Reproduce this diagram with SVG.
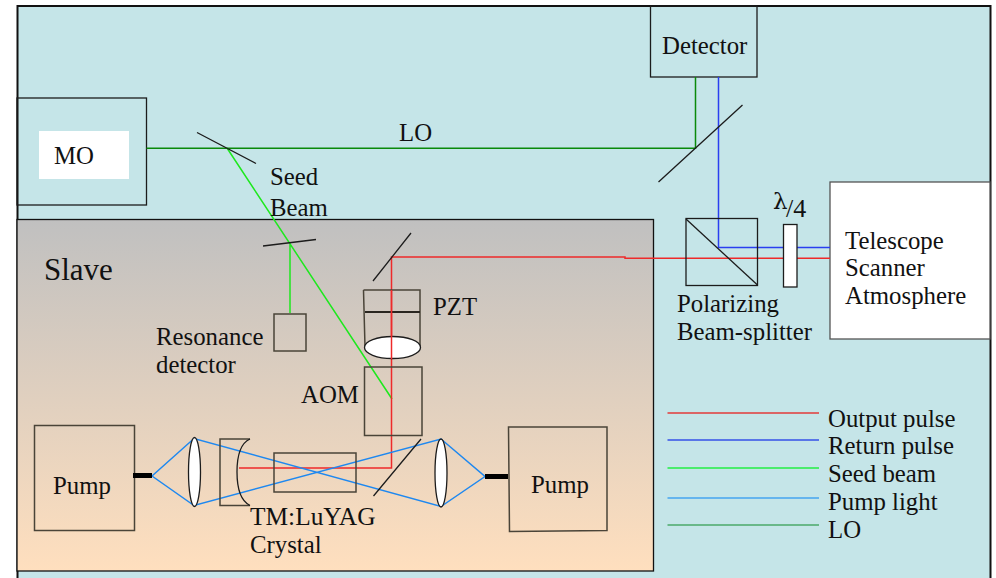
<svg xmlns="http://www.w3.org/2000/svg" width="996" height="578" viewBox="0 0 996 578">
<style>
text{font-family:"Liberation Serif","Times New Roman",serif;font-size:24.8px;fill:#111}
.b{fill:none;stroke:#1c1c1c;stroke-width:1.3}
.g{fill:none;stroke:#4a4438;stroke-width:1.5}
.w{fill:#fff;stroke:#1c1c1c;stroke-width:1.3}
.beam{fill:none;stroke-width:1.5}
.red{stroke:#ee2a2a}.blue{stroke:#2a3ff0}.seed{stroke:#1ee81e}.pump{stroke:#1e88f0}.lo{stroke:#0a8a0a}
</style>
<defs><linearGradient id="sg" x1="0" y1="0" x2="0" y2="1"><stop offset="0" stop-color="#c0c0c0"/><stop offset="1" stop-color="#ffdfbe"/></linearGradient></defs>
<rect x="0" y="0" width="996" height="578" fill="#fff"/>
<g id="frame"><rect x="17.500" y="6" width="973" height="576" fill="#c5e5e8" stroke="#111" stroke-width="2"/></g>
<g id="slave"><rect x="17" y="219.500" width="636.500" height="351.500" fill="url(#sg)" stroke="#111" stroke-width="1.300"/><text x="44" y="280" style="font-size:31px">Slave</text></g>
<g id="mo"><rect x="17" y="98" width="129.500" height="107" class="b"/><rect x="39" y="131" width="90" height="48" fill="#fff"/><text x="54" y="164">MO</text></g>
<g id="detector"><rect x="650.500" y="6" width="106.500" height="71" class="b"/><text x="662" y="54">Detector</text></g>
<g id="telescope"><rect x="830" y="182" width="160" height="157" fill="#fff" stroke="#555" stroke-width="1.300"/><text x="845" y="249">Telescope</text><text x="845" y="276">Scanner</text><text x="845" y="304">Atmosphere</text></g>
<g id="connectors">
<path class="beam lo" d="M146.500 148.300H695.500V77"/>
<path class="beam seed" d="M227 148L392 399M290 243V313"/>
<path class="beam blue" d="M718.500 77V247.500H830"/>
<path class="beam red" d="M830 258.300H625V257H391.500V468H239"/>
<path class="beam pump" d="M152 476L194 438.500L441 506.500L485 476.500L441 439L194 505.500Z"/>
</g>
<g id="mirrors">
<path class="b" d="M197 132.500L256 163.500M263 246L316 239.500M658.500 182L742.500 105M373 281L411 233M373.500 496L421 439"/>
</g>
<g id="resonance"><rect x="274" y="314" width="32" height="37" class="g"/><text x="156" y="345">Resonance</text><text x="156" y="373">detector</text></g>
<g id="pzt"><path class="g" d="M363.500 290H420V347M365 347L363.500 290"/><path d="M365 312H420" fill="none" stroke="#2a2620" stroke-width="1.800"/><ellipse cx="392.500" cy="347.500" rx="28" ry="11" class="w"/><path class="beam red" d="M391.500 290V359"/><text x="433" y="315">PZT</text></g>
<g id="aom"><rect x="364.500" y="367" width="57.500" height="68.500" class="g"/><text x="301" y="403">AOM</text></g>
<g id="crystal"><rect x="274" y="453" width="82" height="39" class="g"/><text x="250" y="525" style="font-size:25.400px">TM:LuYAG</text><text x="250" y="553">Crystal</text></g>
<g id="curved-mirror"><path class="g" d="M250 439H220V505.500H250"/><path class="b" d="M250 439C241 443 237 455 237 472C237 489 241 501 250 505.500"/></g>
<g id="lens-left"><ellipse cx="194.500" cy="472" rx="6" ry="34.500" class="w"/></g>
<g id="lens-right"><ellipse cx="441" cy="473" rx="6" ry="34" class="w"/></g>
<g id="pump-left"><rect x="34.500" y="425.500" width="100" height="105" class="g"/><rect x="133" y="473" width="19" height="5" fill="#000"/><text x="53" y="494">Pump</text></g>
<g id="pump-right"><path class="g" d="M508.500 427H607V530.500L509.500 531.500Z"/><rect x="485" y="474" width="23" height="5" fill="#000"/><text x="531" y="493">Pump</text></g>
<g id="pbs"><rect x="686" y="218.500" width="71.500" height="67" class="b"/><path class="b" d="M686 219L757.500 285"/><text x="677" y="312">Polarizing</text><text x="677" y="340">Beam-splitter</text></g>
<g id="qwp"><rect x="783.500" y="224.500" width="13.500" height="62.500" class="w"/><text x="773" y="209" style="font-family:'DejaVu Serif','Liberation Serif',serif;font-size:23px">λ</text><text x="786" y="217" style="font-size:26px">/4</text></g>
<g id="seed-label"><text x="270" y="185">Seed</text><text x="270" y="216">Beam</text></g>
<text id="lo-label" x="399" y="141">LO</text>
<g id="legend">
<path d="M667.500 413H819" stroke="#e23a3a" stroke-width="1.300"/>
<path d="M667.500 440H819" stroke="#3550e8" stroke-width="1.300"/>
<path d="M667.500 468H819" stroke="#22ee44" stroke-width="1.300"/>
<path d="M667.500 498H819" stroke="#45a5f0" stroke-width="1.300"/>
<path d="M667.500 525H819" stroke="#4aa86a" stroke-width="1.300"/>
<text x="828" y="427">Output pulse</text><text x="828" y="454">Return pulse</text><text x="828" y="482">Seed beam</text><text x="828" y="510">Pump light</text><text x="828" y="538">LO</text>
</g>
</svg>
